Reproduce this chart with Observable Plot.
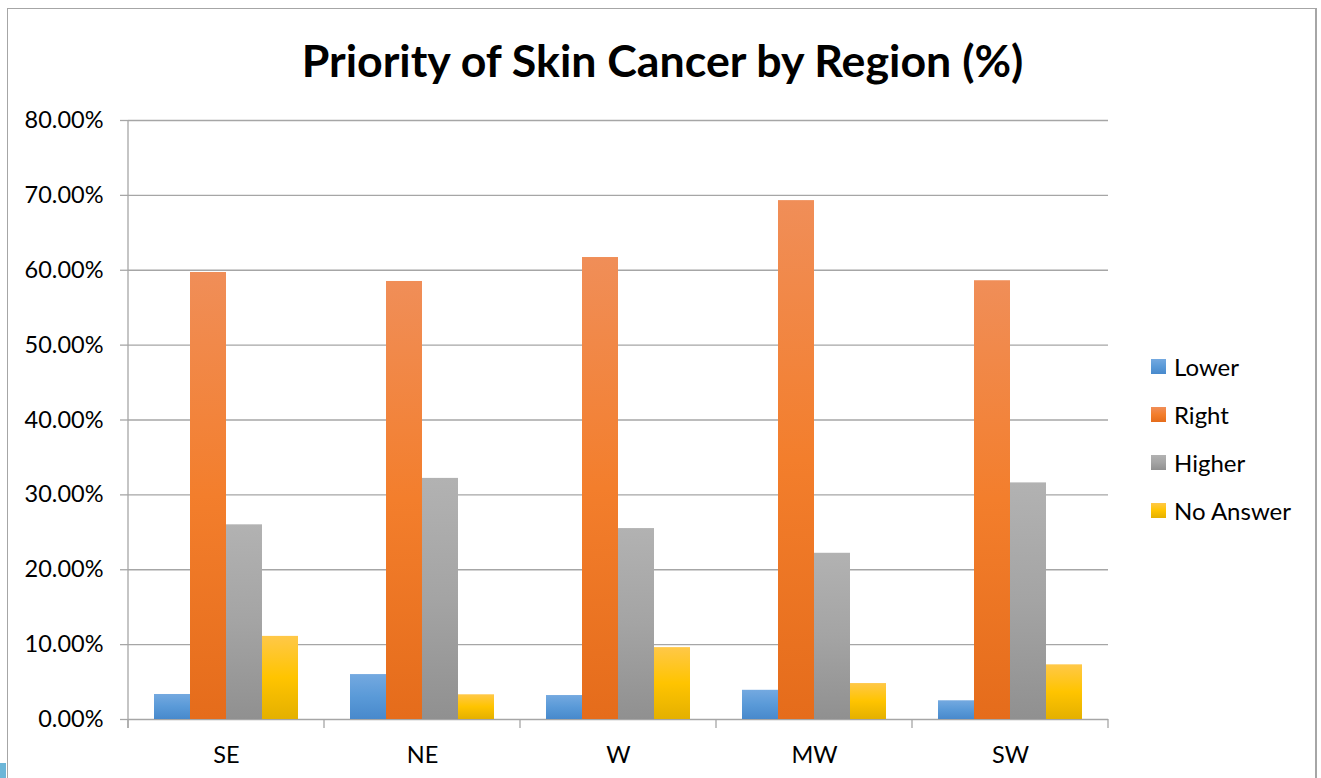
<!DOCTYPE html>
<html>
<head>
<meta charset="utf-8">
<script src="https://cdn.jsdelivr.net/npm/d3@7"></script>
<script src="https://cdn.jsdelivr.net/npm/@observablehq/plot@0.6"></script>
<style>
  body { margin: 0; background: #fff; font-family: Lato, "Open Sans", sans-serif; }
  #wrap { position: relative; width: 1321px; height: 778px; overflow: hidden; }
  #title { height: 100px; box-sizing: border-box; padding-top: 38px; line-height: 45px; font-size: 44.7px; font-weight: 700; text-align: center; width: 1325px; color: #000; white-space: nowrap; }
  #border { position: absolute; left: 7px; top: 8px; width: 1310px; height: 820px; box-sizing: border-box; border-left: 1px solid #a6a6a6; border-top: 1px solid #a6a6a6; border-right: 2px solid #a6a6a6; pointer-events: none; }
  #legend { position: absolute; left: 1151px; top: 342px; font-size: 24px; color: #000; }
  .row { display: flex; align-items: center; height: 48px; white-space: nowrap; }
  .sw { width: 15px; height: 15px; margin-right: 8px; flex: none; }
  #corner { position: absolute; left: 0; top: 763px; width: 6px; height: 15px; background: #6cb6d8; }
</style>
</head>
<body>
<svg width="0" height="0" style="position:absolute">
  <defs>
    <linearGradient id="gLower" x1="0" y1="0" x2="0" y2="1">
      <stop offset="0" stop-color="#74a9e0"/><stop offset="0.5" stop-color="#5a9ad8"/><stop offset="1" stop-color="#4889cc"/>
    </linearGradient>
    <linearGradient id="gRight" x1="0" y1="0" x2="0" y2="1">
      <stop offset="0" stop-color="#f08e58"/><stop offset="0.5" stop-color="#f37e2c"/><stop offset="1" stop-color="#e56c1b"/>
    </linearGradient>
    <linearGradient id="gHigher" x1="0" y1="0" x2="0" y2="1">
      <stop offset="0" stop-color="#b2b2b2"/><stop offset="0.5" stop-color="#a4a4a4"/><stop offset="1" stop-color="#909090"/>
    </linearGradient>
    <linearGradient id="gNA" x1="0" y1="0" x2="0" y2="1">
      <stop offset="0" stop-color="#ffc848"/><stop offset="0.5" stop-color="#ffc400"/><stop offset="1" stop-color="#e4b000"/>
    </linearGradient>
  </defs>
</svg>
<div id="wrap">
  <div id="title">Priority of Skin Cancer by Region (%)</div>
  <div id="chart"></div>
  <div id="legend"></div>
  <div id="border"></div>
  <div id="corner"></div>
</div>
<script>
// ---- data ----
const regions = ["SE", "NE", "W", "MW", "SW"];
const series = ["Lower", "Right", "Higher", "No Answer"];
const lower    = [0.0334, 0.060, 0.032, 0.039, 0.025];
const right    = [0.597, 0.585, 0.617, 0.693, 0.586];
const higher   = [0.260, 0.322, 0.255, 0.222, 0.316];
const noAnswer = [0.111, 0.033, 0.096, 0.048, 0.073];
const yTicks = [0, 0.1, 0.2, 0.3, 0.4, 0.5, 0.6, 0.7, 0.8];

// ---- styles ----
const fills = {"Lower": "url(#gLower)", "Right": "url(#gRight)", "Higher": "url(#gHigher)", "No Answer": "url(#gNA)"};
const swatchCss = {
  "Lower": "linear-gradient(#74a9e0, #5a9ad8 50%, #4889cc)",
  "Right": "linear-gradient(#f08e58, #f37e2c 50%, #e56c1b)",
  "Higher": "linear-gradient(#b2b2b2, #a4a4a4 50%, #909090)",
  "No Answer": "linear-gradient(#ffc848, #ffc400 50%, #e4b000)"
};
const gridColor = "#a6a6a6";

const seriesValues = [lower, right, higher, noAnswer];
const rows = regions.flatMap((r, i) => series.map((s, j) => ({region: r, series: s, value: seriesValues[j][i]})));

const axisLines = Plot.frame({
  facet: "super",
  stroke: "none",
  render: (index, scales, values, dims) => {
    const {marginLeft: ml, marginRight: mr, width: w, height: h, marginBottom: mb, marginTop: mt} = dims;
    const y = scales.y;
    const y0 = y ? y(0) : h - mb;
    const yTop = y ? y(d3.max(yTicks)) : mt;
    const tick = 9;
    const g = d3.create("svg:g").attr("stroke", gridColor).attr("stroke-width", 1.3);
    g.append("line").attr("x1", ml).attr("x2", ml).attr("y1", yTop).attr("y2", y0 + tick);
    const step = (w - ml - mr) / regions.length;
    for (let i = 0; i <= regions.length; i++) {
      const x = ml + i * step;
      g.append("line").attr("x1", x).attr("x2", x).attr("y1", y0).attr("y2", y0 + tick);
    }
    return g.node();
  }
});

const chart = Plot.plot({
  width: 1321,
  height: 678,
  marginLeft: 128,
  marginRight: 213,
  marginTop: 20,
  marginBottom: 59,
  style: {fontFamily: "Lato, 'Open Sans', sans-serif", fontSize: "23.5px", color: "#000", background: "transparent", overflow: "visible"},
  fx: {domain: regions, padding: 0, label: null},
  x: {domain: series, paddingInner: 0, paddingOuter: 0.72, axis: null},
  y: {domain: [0, 0.8], label: null},
  color: {type: "identity"},
  marks: [
    Plot.gridY(yTicks, {stroke: gridColor, strokeOpacity: 1, strokeWidth: 1.3}),
    Plot.barY(rows, {fx: "region", x: "series", y: "value", fill: d => fills[d.series]}),
    Plot.axisY(yTicks, {tickFormat: d3.format(".2%"), tickSize: 8, tickPadding: 17, stroke: gridColor, strokeWidth: 1.3, fill: "#000", label: null}),
    Plot.axisFx({anchor: "bottom", tickSize: 0, tickPadding: 27, fill: "#000", label: null}),
    axisLines
  ]
});
document.getElementById("chart").appendChild(chart);

// legend
const legend = d3.select("#legend");
series.forEach(s => {
  const row = legend.append("div").attr("class", "row");
  row.append("div").attr("class", "sw").style("background", swatchCss[s]);
  row.append("span").text(s);
});
</script>
</body>
</html>
